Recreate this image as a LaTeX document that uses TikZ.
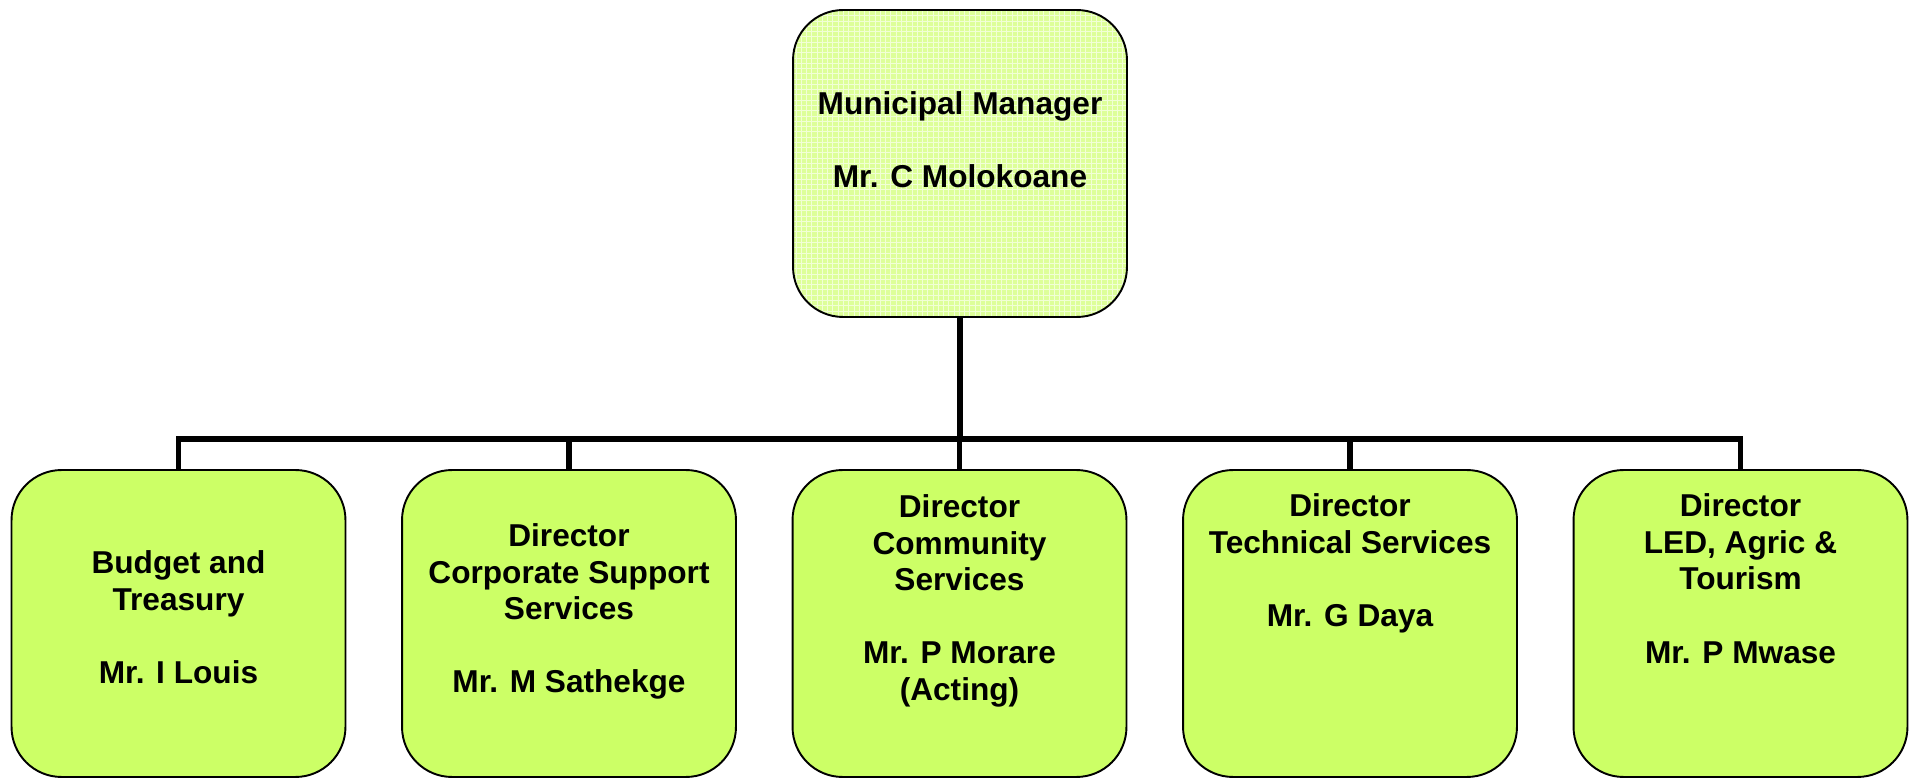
\documentclass[tikz,border=0pt]{standalone}
\usepackage{fontspec}
\setmainfont{Liberation Sans}
\usetikzlibrary{patterns}
\definecolor{unitgreen}{HTML}{CCFF66}
\definecolor{headgreen}{HTML}{DDFF99}

\begin{document}
\begin{tikzpicture}[x=0.02cm, y=-0.02cm,
  unit/.style={draw, line width=1.1pt, rounded corners=1cm, fill=unitgreen,
    minimum width=6.68cm, minimum height=6.14cm, inner sep=0pt},
  head/.style={unit, fill=none, preaction={fill=headgreen},
    pattern=grid, pattern color=white!60!headgreen},
  txt/.style={font=\bfseries\fontsize{18}{20.8}\selectfont, align=center,
    anchor=base, inner sep=0pt},
  link/.style={line width=3.2pt, line join=miter}]
  \useasboundingbox (0,0) rectangle (1911,780);
  % Municipal manager (text placed by its last baseline)
  \node[head] (mm) at (960,163.5) {};
  \node[txt] (mmname) at (960,187.3) {Municipal Manager\\[20.8pt] Mr. C Molokoane};
  % Departments
  \node[unit] (bt) at (178.5,623.5) {};
  \node[txt] (btname) at (178.5,683.3) {Budget and\\Treasury\\[20.8pt] Mr. I Louis};
  \node[unit] (cs) at (569,623.5) {};
  \node[txt] (csname) at (569,692.7) {Director\\Corporate Support\\Services\\[20.8pt] Mr. M Sathekge};
  \node[unit] (com) at (959.5,623.5) {};
  \node[txt] (comname) at (959.5,700.3) {Director\\Community\\Services\\[20.8pt] Mr. P Morare\\(Acting)};
  \node[unit] (ts) at (1350,623.5) {};
  \node[txt] (tsname) at (1350,626.6) {Director\\Technical Services\\[20.8pt] Mr. G Daya};
  \node[unit] (led) at (1740.5,623.5) {};
  \node[txt] (ledname) at (1740.5,663) {Director\\LED, Agric \&\\Tourism\\[20.8pt] Mr. P Mwase};
  % Reporting lines
  \coordinate (bus) at (960,439);
  \draw[link] (mm.south) -- (mm.south |- bus);
  \draw[link] (bt.north) -- (bt.north |- bus) -- (led.north |- bus) -- (led.north);
  \foreach \u in {cs,com,ts}
    \draw[link] (\u.north) -- (\u.north |- bus);
\end{tikzpicture}
\end{document}
